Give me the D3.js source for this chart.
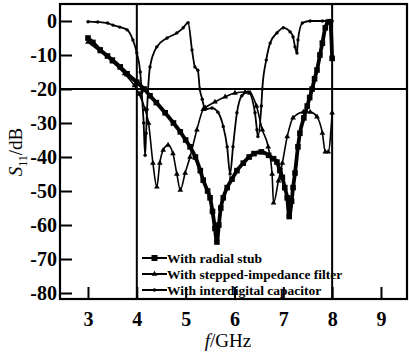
<!DOCTYPE html>
<html>
<head>
<meta charset="utf-8">
<script src="https://cdn.jsdelivr.net/npm/d3@7"></script>
<style>
body { margin: 0; background: #fff; }
text { font-family: "Liberation Serif", "Times New Roman", serif; fill: #000; }
</style>
</head>
<body>
<script>

// values (GHz, dB)
var stubFreq = [3.0, 3.1, 3.25, 3.4, 3.5, 3.66, 3.8, 4.0, 4.15, 4.27, 4.4, 4.58, 4.75, 4.89, 5.0, 5.09, 5.2, 5.3, 5.36, 5.45,
  5.5, 5.55, 5.6, 5.64, 5.68, 5.72, 5.77, 5.85, 5.95, 6.05, 6.18, 6.3, 6.4, 6.55, 6.7, 6.8, 6.87, 6.93, 6.98, 7.03,
  7.08, 7.12, 7.17, 7.2, 7.24, 7.3, 7.34, 7.42, 7.49, 7.54, 7.59, 7.64, 7.69, 7.75, 7.8, 7.86, 7.92, 7.96, 8.0];
var stubS11 = [-5, -6.3, -8.5, -10.3, -11.5, -13.5, -15.5, -18, -20, -22, -24, -27, -30, -32.6, -35, -37, -40, -44, -46.8, -50,
  -52, -56, -61, -65, -60, -55, -52, -49, -46.5, -44, -41.8, -40, -39, -38.5, -39.5, -40.5, -41.5, -44, -46, -49,
  -52, -57.5, -53, -49, -44.7, -37, -33, -28.5, -25, -22.5, -20, -17, -14.4, -10, -6.5, -2, -0.3, -0.2, -11];

var stepFreq = [3.0, 3.25, 3.5, 3.75, 3.95, 4.05, 4.17, 4.24, 4.33, 4.41, 4.47, 4.54, 4.64, 4.74, 4.82, 4.89, 4.99, 5.09, 5.23, 5.36,
  5.4, 5.6, 5.81, 6.01, 6.22, 6.32, 6.45, 6.57, 6.69, 6.77, 6.8, 6.9, 6.98, 7.08, 7.2, 7.41, 7.55, 7.69, 7.8, 7.86, 7.92, 8.0];
var stepS11 = [-6.2, -9, -12, -15.5, -19, -21.5, -26, -30, -41.8, -48.8, -41.8, -38, -36.5, -39, -45, -49.7, -44.7, -40, -32, -26,
  -25.5, -23.8, -22.3, -21.2, -20.9, -21.2, -25, -32, -37, -45, -53.5, -47, -41.8, -34, -28.5, -26.8, -26.8, -28.2, -33, -38.5, -38.5, -27];

var capFreq = [3.0, 3.2, 3.4, 3.51, 3.65, 3.8, 3.92, 4.0, 4.07, 4.1, 4.14, 4.17, 4.19, 4.21, 4.27, 4.41, 4.62, 4.82, 4.95, 5.05,
  5.13, 5.19, 5.25, 5.29, 5.34, 5.4, 5.54, 5.66, 5.77, 5.85, 5.91, 5.97, 6.05, 6.15, 6.28, 6.42, 6.46, 6.48, 6.55, 6.57,
  6.65, 6.73, 6.87, 7.0, 7.14, 7.2, 7.24, 7.28, 7.3, 7.39, 7.55, 7.8, 8.0];
var capS11 = [-0.2, -0.3, -0.6, -1.2, -1.8, -2.6, -5.6, -9.4, -15, -21, -30, -39.5, -33, -26, -13.5, -7.6, -5, -3.5, -2, -0.5,
  -8.5, -13.5, -14.5, -20, -23, -26, -25.6, -26.8, -31, -37, -45, -37, -27, -22, -20.9, -27, -32, -34, -25, -20,
  -11.5, -6.5, -3.5, -2, -3.2, -4.7, -7.6, -9.4, -5.6, -0.6, 0, 0, 0];

var xTicks = [3, 4, 5, 6, 7, 8, 9];
var yTicks = [0, -10, -20, -30, -40, -50, -60, -70, -80];
var legendLabels = ["With radial stub", "With stepped-impedance filter", "With interdigital capacitor"];

var margin = {top: 4, right: 2, bottom: 54, left: 60},
    width = 409 - margin.left - margin.right,
    height = 353 - margin.top - margin.bottom;

var svg = d3.select("body").append("svg")
  .attr("width", 409)
  .attr("height", 353);

var chart = svg.append("g")
  .attr("transform", "translate(" + margin.left + "," + margin.top + ")");

var x = d3.scaleLinear().domain([2.427, 9.533]).range([0, width]);
var y = d3.scaleLinear().domain([5, -81.76]).range([0, height]);

// axes, ticks point inwards
var yAxis = chart.append("g")
  .call(d3.axisLeft(y).tickValues(yTicks).tickSize(-12).tickPadding(3)
    .tickFormat(function(d) { return d === 0 ? "0" : "-" + Math.abs(d); }));
var xAxis = chart.append("g")
  .attr("transform", "translate(0," + height + ")")
  .call(d3.axisBottom(x).tickValues(xTicks).tickSize(-12).tickPadding(13));

[yAxis, xAxis].forEach(function(a) {
  a.select(".domain").remove();
  a.selectAll(".tick line").attr("stroke", "#000").attr("stroke-width", 2);
  a.selectAll(".tick text").style("font-size", "20px").style("font-weight", "bold")
    .style("font-family", "'Liberation Serif', serif");
});

// reference lines at 4 GHz, 8 GHz and -20 dB
chart.selectAll(".vref").data([4, 8]).enter().append("line")
  .attr("x1", function(d) { return x(d); }).attr("x2", function(d) { return x(d); })
  .attr("y1", 0).attr("y2", height)
  .attr("stroke", "#000").attr("stroke-width", 2);
chart.append("line")
  .attr("x1", 0).attr("x2", width)
  .attr("y1", y(-20)).attr("y2", y(-20))
  .attr("stroke", "#000").attr("stroke-width", 2);

chart.append("rect")
  .attr("width", width).attr("height", height)
  .attr("fill", "none").attr("stroke", "#000").attr("stroke-width", 2.2);

function series(freq, vals) {
  return freq.map(function(f, i) { return [f, vals[i]]; });
}

var line = d3.line()
  .x(function(d) { return x(d[0]); })
  .y(function(d) { return y(d[1]); })
  .curve(d3.curveMonotoneX);

var stub = series(stubFreq, stubS11),
    step = series(stepFreq, stepS11),
    cap = series(capFreq, capS11);

chart.append("path").datum(cap).attr("d", line)
  .attr("fill", "none").attr("stroke", "#000").attr("stroke-width", 1.8);
chart.append("path").datum(step).attr("d", line)
  .attr("fill", "none").attr("stroke", "#000").attr("stroke-width", 1.6);
chart.append("path").datum(stub).attr("d", line)
  .attr("fill", "none").attr("stroke", "#000").attr("stroke-width", 3.8);

var tri = d3.symbol().type(d3.symbolTriangle).size(14);

chart.selectAll(".cap").data(cap).enter().append("circle")
  .attr("cx", function(d) { return x(d[0]); })
  .attr("cy", function(d) { return y(d[1]); })
  .attr("r", 1.7);
chart.selectAll(".step").data(step).enter().append("path")
  .attr("d", tri)
  .attr("transform", function(d) { return "translate(" + x(d[0]) + "," + y(d[1]) + ")"; });
chart.selectAll(".stub").data(stub).enter().append("rect")
  .attr("x", function(d) { return x(d[0]) - 2.8; })
  .attr("y", function(d) { return y(d[1]) - 2.8; })
  .attr("width", 5.6).attr("height", 5.6);

// legend
var leg = chart.selectAll(".leg").data(legendLabels).enter().append("g")
  .attr("transform", function(d, i) { return "translate(82," + (254 + i * 16) + ")"; });
leg.append("line").attr("x1", 0).attr("x2", 25).attr("stroke", "#000").attr("stroke-width", 2);
leg.each(function(d, i) {
  var g = d3.select(this);
  if (i === 0) g.append("rect").attr("x", 9.5).attr("y", -3).attr("width", 6).attr("height", 6);
  if (i === 1) g.append("path").attr("d", tri).attr("transform", "translate(12.5,0)");
  if (i === 2) g.append("circle").attr("cx", 12.5).attr("r", 1.8);
});
leg.append("text").attr("x", 25).attr("dy", "0.35em")
  .style("font-size", "13.5px").style("font-weight", "bold")
  .text(function(d) { return d; });

// axis titles
svg.append("text")
  .attr("x", 228).attr("y", 347)
  .attr("text-anchor", "middle")
  .style("font-size", "19px")
  .html("<tspan font-style='italic'>f</tspan>/GHz");

var yt = svg.append("text")
  .attr("transform", "translate(22,152) rotate(-90)")
  .attr("text-anchor", "middle")
  .style("font-size", "19px");
yt.append("tspan").attr("font-style", "italic").text("S");
yt.append("tspan").attr("dy", 5).style("font-size", "12px").text("11");
yt.append("tspan").attr("dy", -5).text("/dB");

</script>
</body>
</html>
